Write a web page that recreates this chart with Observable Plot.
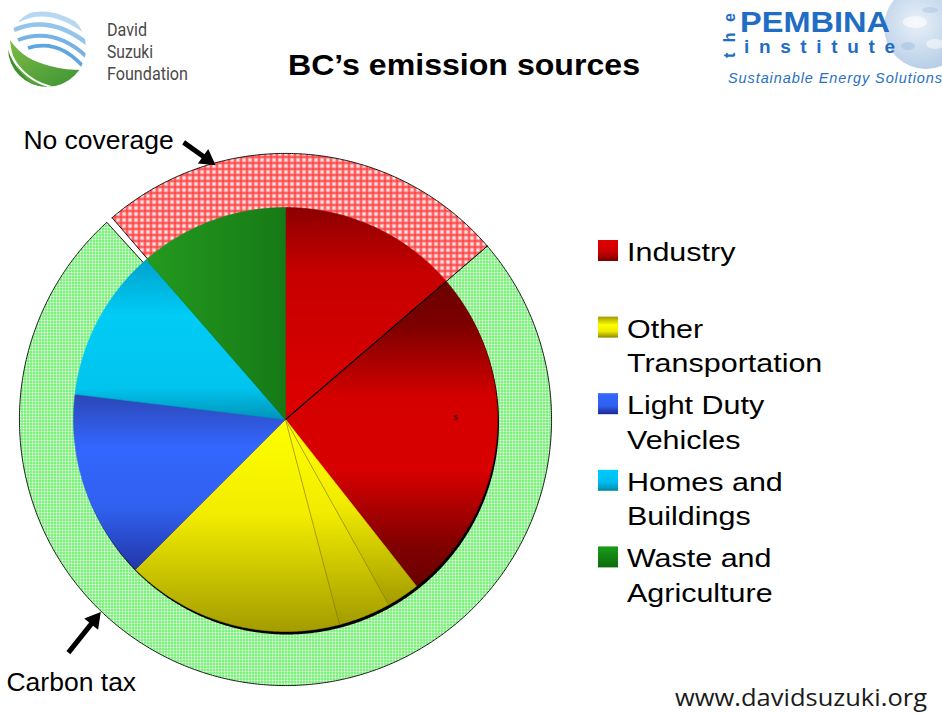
<!DOCTYPE html>
<html>
<head>
<meta charset="utf-8">
<script src="https://cdn.jsdelivr.net/npm/d3@7"></script>
<script src="https://cdn.jsdelivr.net/npm/@observablehq/plot@0.6"></script>
<style>
  html, body { margin: 0; padding: 0; background: #fff; }
  #wrap { position: relative; width: 942px; height: 715px; overflow: hidden; background: #fff; }
  #chart { position: absolute; left: 0; top: 0; width: 942px; height: 715px; }
  #overlay { position: absolute; left: 0; top: 0; }
</style>
</head>
<body>
<div id="wrap">
  <div id="chart"></div>
  <svg id="overlay" width="942" height="715" xmlns="http://www.w3.org/2000/svg">
    <defs>
      <clipPath id="dsfClip"><circle cx="47" cy="48" r="39"/></clipPath>
      <linearGradient id="leafG" x1="0" y1="0" x2="1" y2="1">
        <stop offset="0" stop-color="#7dbb45"/><stop offset="1" stop-color="#3c9234"/>
      </linearGradient>
      <radialGradient id="globeG" cx="0.4" cy="0.45" r="0.6">
        <stop offset="0" stop-color="#e8f0f8"/><stop offset="1" stop-color="#b4cce6"/>
      </radialGradient>
    </defs>
    <!-- David Suzuki Foundation logo -->
    <g clip-path="url(#dsfClip)">
      <circle cx="47" cy="48" r="39" fill="#ffffff"/>
      <path d="M18,20 Q48,4 84,30" fill="none" stroke="#b6d8f2" stroke-width="5"/>
      <path d="M14,30 Q50,14 88,44" fill="none" stroke="#93c4ec" stroke-width="4.5"/>
      <path d="M18,40 Q55,26 88,58" fill="none" stroke="#76b3e4" stroke-width="4"/>
      <path d="M28,48 Q60,38 86,70" fill="none" stroke="#5ea6df" stroke-width="3.5"/>
      <path d="M4,28 C6,70 36,96 80,90 L84,100 L0,100 Z" fill="#3f8e30"/>
      <path d="M10,40 C20,55 34,62 50,66 C62,69 72,70 82,70 C72,84 54,90 38,86 C22,80 12,62 10,40 Z" fill="url(#leafG)"/>
      <path d="M6,34 C10,70 38,92 76,88" fill="none" stroke="#ffffff" stroke-width="2"/>
    </g>
    <g font-family="Roboto, 'Liberation Sans', sans-serif" font-size="18.5" fill="#4a4a4a">
      <text x="107" y="36" textLength="40" lengthAdjust="spacingAndGlyphs">David</text>
      <text x="107" y="58" textLength="46" lengthAdjust="spacingAndGlyphs">Suzuki</text>
      <text x="107" y="80" textLength="81" lengthAdjust="spacingAndGlyphs">Foundation</text>
    </g>
    <!-- Pembina Institute logo -->
    <circle cx="926" cy="27" r="42" fill="url(#globeG)"/>
    <ellipse cx="915" cy="22" rx="12" ry="6" fill="#ffffff" opacity="0.6"/>
    <ellipse cx="935" cy="44" rx="9" ry="5" fill="#ffffff" opacity="0.5"/>
    <ellipse cx="908" cy="46" rx="7" ry="4" fill="#9dbde0" opacity="0.5"/>
    <ellipse cx="930" cy="10" rx="8" ry="3" fill="#9dbde0" opacity="0.4"/>
    <g font-family="'Liberation Sans', Arial, sans-serif" fill="#1f6dc4">
      <text transform="translate(735,58) rotate(-90)" font-size="16" font-weight="bold" textLength="45" lengthAdjust="spacing">the</text>
      <text x="740" y="32" font-size="30" font-weight="bold" textLength="150" lengthAdjust="spacingAndGlyphs">PEMBINA</text>
      <text x="744" y="53" font-size="19" font-weight="bold" textLength="151" lengthAdjust="spacing">institute</text>
      <text x="728" y="83" font-size="14.5" font-style="italic" textLength="214" lengthAdjust="spacing" fill="#2a70c4">Sustainable Energy Solutions</text>
    </g>
  </svg>
</div>
<script>
// ---------------- DATA ----------------
// Pie slices, clockwise from 12 o'clock (share of BC emissions, %)
const sliceSources = ["Industry", "Industry", "Other Transportation", "Other Transportation",
                      "Other Transportation", "Light Duty Vehicles", "Homes and Buildings", "Waste and Agriculture"];
const sliceShares = [13.7, 25.7, 2.5, 4.0, 16.6, 14.4, 11.7, 11.4];

// Outer ring (policy coverage), starting where the first Industry slice ends
const ringLabels = ["Carbon tax", "No coverage"];
const ringShares = [75.0, 25.0];

// Legend categories and wrapped lines
const legendCategories = ["Industry", "Other Transportation", "Light Duty Vehicles", "Homes and Buildings", "Waste and Agriculture"];
const legendLines = [["Industry"], ["Other", "Transportation"], ["Light Duty", "Vehicles"], ["Homes and", "Buildings"], ["Waste and", "Agriculture"]];

// Annotation arrows: angle (deg clockwise from north) & radius of arrow tip on the ring
const annoLabels = ["No coverage", "Carbon tax"];
const annoAngles = [344.6, 223.8];
const annoRadii = [1.245, 1.26];

// ---------------- LAYOUT ----------------
const W = 942, H = 715;
const unit = 212;              // pixels per pie radius
const cx = 285, cy = 419;      // pie centre in pixels
const ringOuter = 1.255;
const ringPad = 1.5;           // degrees of white gap after the carbon-tax segment

const rad = d => d * Math.PI / 180;
const toXY = (deg, r) => ({x: r * Math.sin(rad(deg)), y: r * Math.cos(rad(deg))});
function arcPts(a0, a1, r) {
  const n = Math.max(2, Math.ceil(Math.abs(a1 - a0) / 0.4));
  return d3.range(n + 1).map(i => toXY(a0 + (a1 - a0) * i / n, r));
}

// slices
const total = d3.sum(sliceShares);
let acc = 0;
const slices = sliceShares.map((v, i) => {
  const a0 = acc / total * 360; acc += v;
  const a1 = acc / total * 360;
  return {i, a0, a1, source: sliceSources[i]};
});
const slicePoly = s => [{x: 0, y: 0}, ...arcPts(s.a0, s.a1, 1), {x: 0, y: 0}];

// ring
const ringStart = slices[0].a1;
const ringTotal = d3.sum(ringShares);
let racc = 0;
const ringSegs = ringShares.map((v, i) => {
  const a0 = ringStart + racc / ringTotal * 360; racc += v;
  let a1 = ringStart + racc / ringTotal * 360;
  if (i === 0) a1 -= ringPad;
  return {label: ringLabels[i], a0, a1};
});
const ringPoly = s => [...arcPts(s.a0, s.a1, ringOuter), ...arcPts(s.a1, s.a0, 0.99), toXY(s.a0, ringOuter)];
const ringFill = {"Carbon tax": "url(#hatchGreen)", "No coverage": "url(#hatchRed)"};

// dividers between slices
const dividerStyle = {0: {stroke: "#000", w: 1.1}, 2: {stroke: "#7f7a00", w: 0.6}, 3: {stroke: "#7f7a00", w: 0.6}};
const dividers = Object.keys(dividerStyle).map(k => {
  const p = toXY(slices[+k].a1, 1);
  return {x1: 0, y1: 0, x2: p.x, y2: p.y, ...dividerStyle[k]};
});

// annotations
const tailOffsets = [[-0.150, 0.107], [-0.152, -0.190]];
const textOffsets = [[-0.047, -0.033], [-0.292, -0.179]];
const annos = annoLabels.map((label, i) => {
  const tip = toXY(annoAngles[i], annoRadii[i]);
  const tail = {x: tip.x + tailOffsets[i][0], y: tip.y + tailOffsets[i][1]};
  const dx = tip.x - tail.x, dy = tip.y - tail.y, L = Math.hypot(dx, dy);
  const ux = dx / L, uy = dy / L;
  const head = {x: tip.x - ux * 10 / unit, y: tip.y - uy * 10 / unit};
  const rot = Math.atan2(ux, uy) * 180 / Math.PI;
  return {label, tail, head, rot,
          tx: tail.x + textOffsets[i][0], ty: tail.y + textOffsets[i][1],
          anchor: i === 0 ? "end" : "start"};
});

// ---------------- MARKS ----------------
const marks = [];
ringSegs.forEach(s => marks.push(
  Plot.line(ringPoly(s), {x: "x", y: "y", fill: ringFill[s.label], stroke: "#000", strokeWidth: 0.9, curve: "linear"})
));
// soft drop shadow under pie (visible as dark rim at bottom-right)
marks.push(Plot.line(arcPts(0, 360, 1.0).map(p => ({x: p.x + 0.007, y: p.y - 0.014})),
  {x: "x", y: "y", fill: "#000", stroke: "none"}));
slices.forEach(s => marks.push(
  Plot.line(slicePoly(s), {x: "x", y: "y", fill: `url(#slice${s.i})`, stroke: `url(#slice${s.i})`, strokeWidth: 0.6, curve: "linear"})
));
marks.push(Plot.link(dividers, {x1: "x1", y1: "y1", x2: "x2", y2: "y2", stroke: d => d.stroke, strokeWidth: d => d.w}));
// a stray tiny label inside the Industry slice
marks.push(Plot.text([{x: 0.802, y: 0.009, t: "s"}], {x: "x", y: "y", text: "t", fontSize: 9, fill: "#111"}));
// arrows
annos.forEach(a => {
  marks.push(Plot.link([a], {x1: d => d.tail.x, y1: d => d.tail.y, x2: d => d.head.x, y2: d => d.head.y, stroke: "#000", strokeWidth: 5}));
  marks.push(Plot.dot([a], {x: d => d.head.x, y: d => d.head.y, symbol: "triangle", r: 6.6, fill: "#000", stroke: "none", rotate: a.rot}));
  marks.push(Plot.text([a], {x: "tx", y: "ty", text: "label", textAnchor: a.anchor, lineAnchor: "bottom",
    fontSize: 26.5, fontFamily: "'Liberation Sans', Arial, sans-serif", fill: "#000"}));
});

const chart = Plot.plot({
  width: W, height: H, margin: 0,
  x: {domain: [-cx / unit, (W - cx) / unit], axis: null},
  y: {domain: [-(H - cy) / unit, cy / unit], axis: null},
  style: {background: "transparent", fontFamily: "'Liberation Sans', Arial, sans-serif", overflow: "visible"},
  marks
});

d3.select(chart).insert("defs", ":first-child").html(`
  <pattern id="hatchRed" patternUnits="userSpaceOnUse" width="6" height="6">
    <rect width="6" height="6" fill="#ff9494"/>
    <rect width="6" height="1" fill="#ff3030"/>
    <rect width="1" height="6" fill="#ff3030"/>
    <rect x="3" y="2" width="1" height="3" fill="#ffffff"/>
    <rect x="2" y="3" width="3" height="1" fill="#ffffff"/>
  </pattern>
  <pattern id="hatchGreen" patternUnits="userSpaceOnUse" width="3" height="3">
    <rect width="3" height="3" fill="#ffffff"/>
    <rect width="3" height="1" fill="#52ee52"/>
    <rect width="1" height="3" fill="#52ee52"/>
  </pattern>
  <linearGradient id="slice0" x1="0" y1="0" x2="0" y2="1">
    <stop offset="0" stop-color="#8c0000"/><stop offset="0.3" stop-color="#c60000"/><stop offset="1" stop-color="#de0000"/>
  </linearGradient>
  <linearGradient id="slice1" x1="0" y1="0" x2="0" y2="1">
    <stop offset="0" stop-color="#6c0000"/><stop offset="0.14" stop-color="#7c0000"/>
    <stop offset="0.38" stop-color="#d40000"/><stop offset="0.62" stop-color="#d80000"/>
    <stop offset="0.86" stop-color="#820000"/><stop offset="1" stop-color="#6a0000"/>
  </linearGradient>
  ${[2,3,4].map(i => `<linearGradient id="slice${i}" x1="0" y1="0" x2="0" y2="1">
    <stop offset="0" stop-color="#ffff00"/><stop offset="0.45" stop-color="#f2ec00"/><stop offset="1" stop-color="#a39c00"/>
  </linearGradient>`).join("")}
  <linearGradient id="slice5" x1="0" y1="0" x2="0" y2="1">
    <stop offset="0" stop-color="#2c46b4"/><stop offset="0.3" stop-color="#3366ff"/>
    <stop offset="0.65" stop-color="#3060ee"/><stop offset="1" stop-color="#2236a8"/>
  </linearGradient>
  <linearGradient id="slice6" x1="0" y1="0" x2="0" y2="1">
    <stop offset="0" stop-color="#00a2cc"/><stop offset="0.35" stop-color="#00ccf6"/>
    <stop offset="0.8" stop-color="#00c4ee"/><stop offset="1" stop-color="#0094b8"/>
  </linearGradient>
  <linearGradient id="slice7" x1="0" y1="0" x2="1" y2="0">
    <stop offset="0" stop-color="#249a1f"/><stop offset="1" stop-color="#167a16"/>
  </linearGradient>
`);
document.getElementById("chart").appendChild(chart);

// ---------------- TITLE, LEGEND, FOOTER ----------------
const ov = d3.select("#overlay");
ov.select("defs").append("g").html(`
  <linearGradient id="lg0" x1="0" y1="0" x2="0" y2="1"><stop offset="0" stop-color="#e00000"/><stop offset="0.55" stop-color="#cc0000"/><stop offset="1" stop-color="#7a0000"/></linearGradient>
  <linearGradient id="lg1" x1="0" y1="0" x2="0" y2="1"><stop offset="0" stop-color="#a09a00"/><stop offset="0.4" stop-color="#ffff00"/><stop offset="0.7" stop-color="#f0ea00"/><stop offset="1" stop-color="#8e8800"/></linearGradient>
  <linearGradient id="lg2" x1="0" y1="0" x2="0" y2="1"><stop offset="0" stop-color="#3366ff"/><stop offset="0.6" stop-color="#3060f0"/><stop offset="1" stop-color="#1a2a90"/></linearGradient>
  <linearGradient id="lg3" x1="0" y1="0" x2="0" y2="1"><stop offset="0" stop-color="#00ccff"/><stop offset="0.6" stop-color="#00bbee"/><stop offset="1" stop-color="#0088aa"/></linearGradient>
  <linearGradient id="lg4" x1="0" y1="0" x2="0" y2="1"><stop offset="0" stop-color="#1c9c1c"/><stop offset="1" stop-color="#0a6a0a"/></linearGradient>
`);

ov.append("text")
  .attr("x", 288).attr("y", 75)
  .attr("font-family", "'Liberation Sans', Arial, sans-serif")
  .attr("font-weight", "bold").attr("font-size", 29.5)
  .attr("textLength", 352).attr("lengthAdjust", "spacingAndGlyphs")
  .text("BC\u2019s emission sources");

const lg = ov.append("g").attr("font-family", "'Liberation Sans', Arial, sans-serif").attr("font-size", 26.5).attr("fill", "#000");
legendCategories.forEach((cat, i) => {
  const base = 261 + 76.6 * i;
  lg.append("rect").attr("x", 598).attr("y", base - 21).attr("width", 20).attr("height", 21).attr("fill", `url(#lg${i})`);
  legendLines[i].forEach((t, j) => {
    lg.append("text").attr("transform", `translate(627,${base + 34.5 * j}) scale(1.15,1)`).text(t);
  });
});

ov.append("text")
  .attr("x", 675).attr("y", 706)
  .attr("font-family", "'Open Sans', 'DejaVu Sans', sans-serif").attr("font-size", 23)
  .attr("fill", "#1a1a1a")
  .attr("textLength", 252).attr("lengthAdjust", "spacingAndGlyphs")
  .text("www.davidsuzuki.org");
</script>
</body>
</html>
